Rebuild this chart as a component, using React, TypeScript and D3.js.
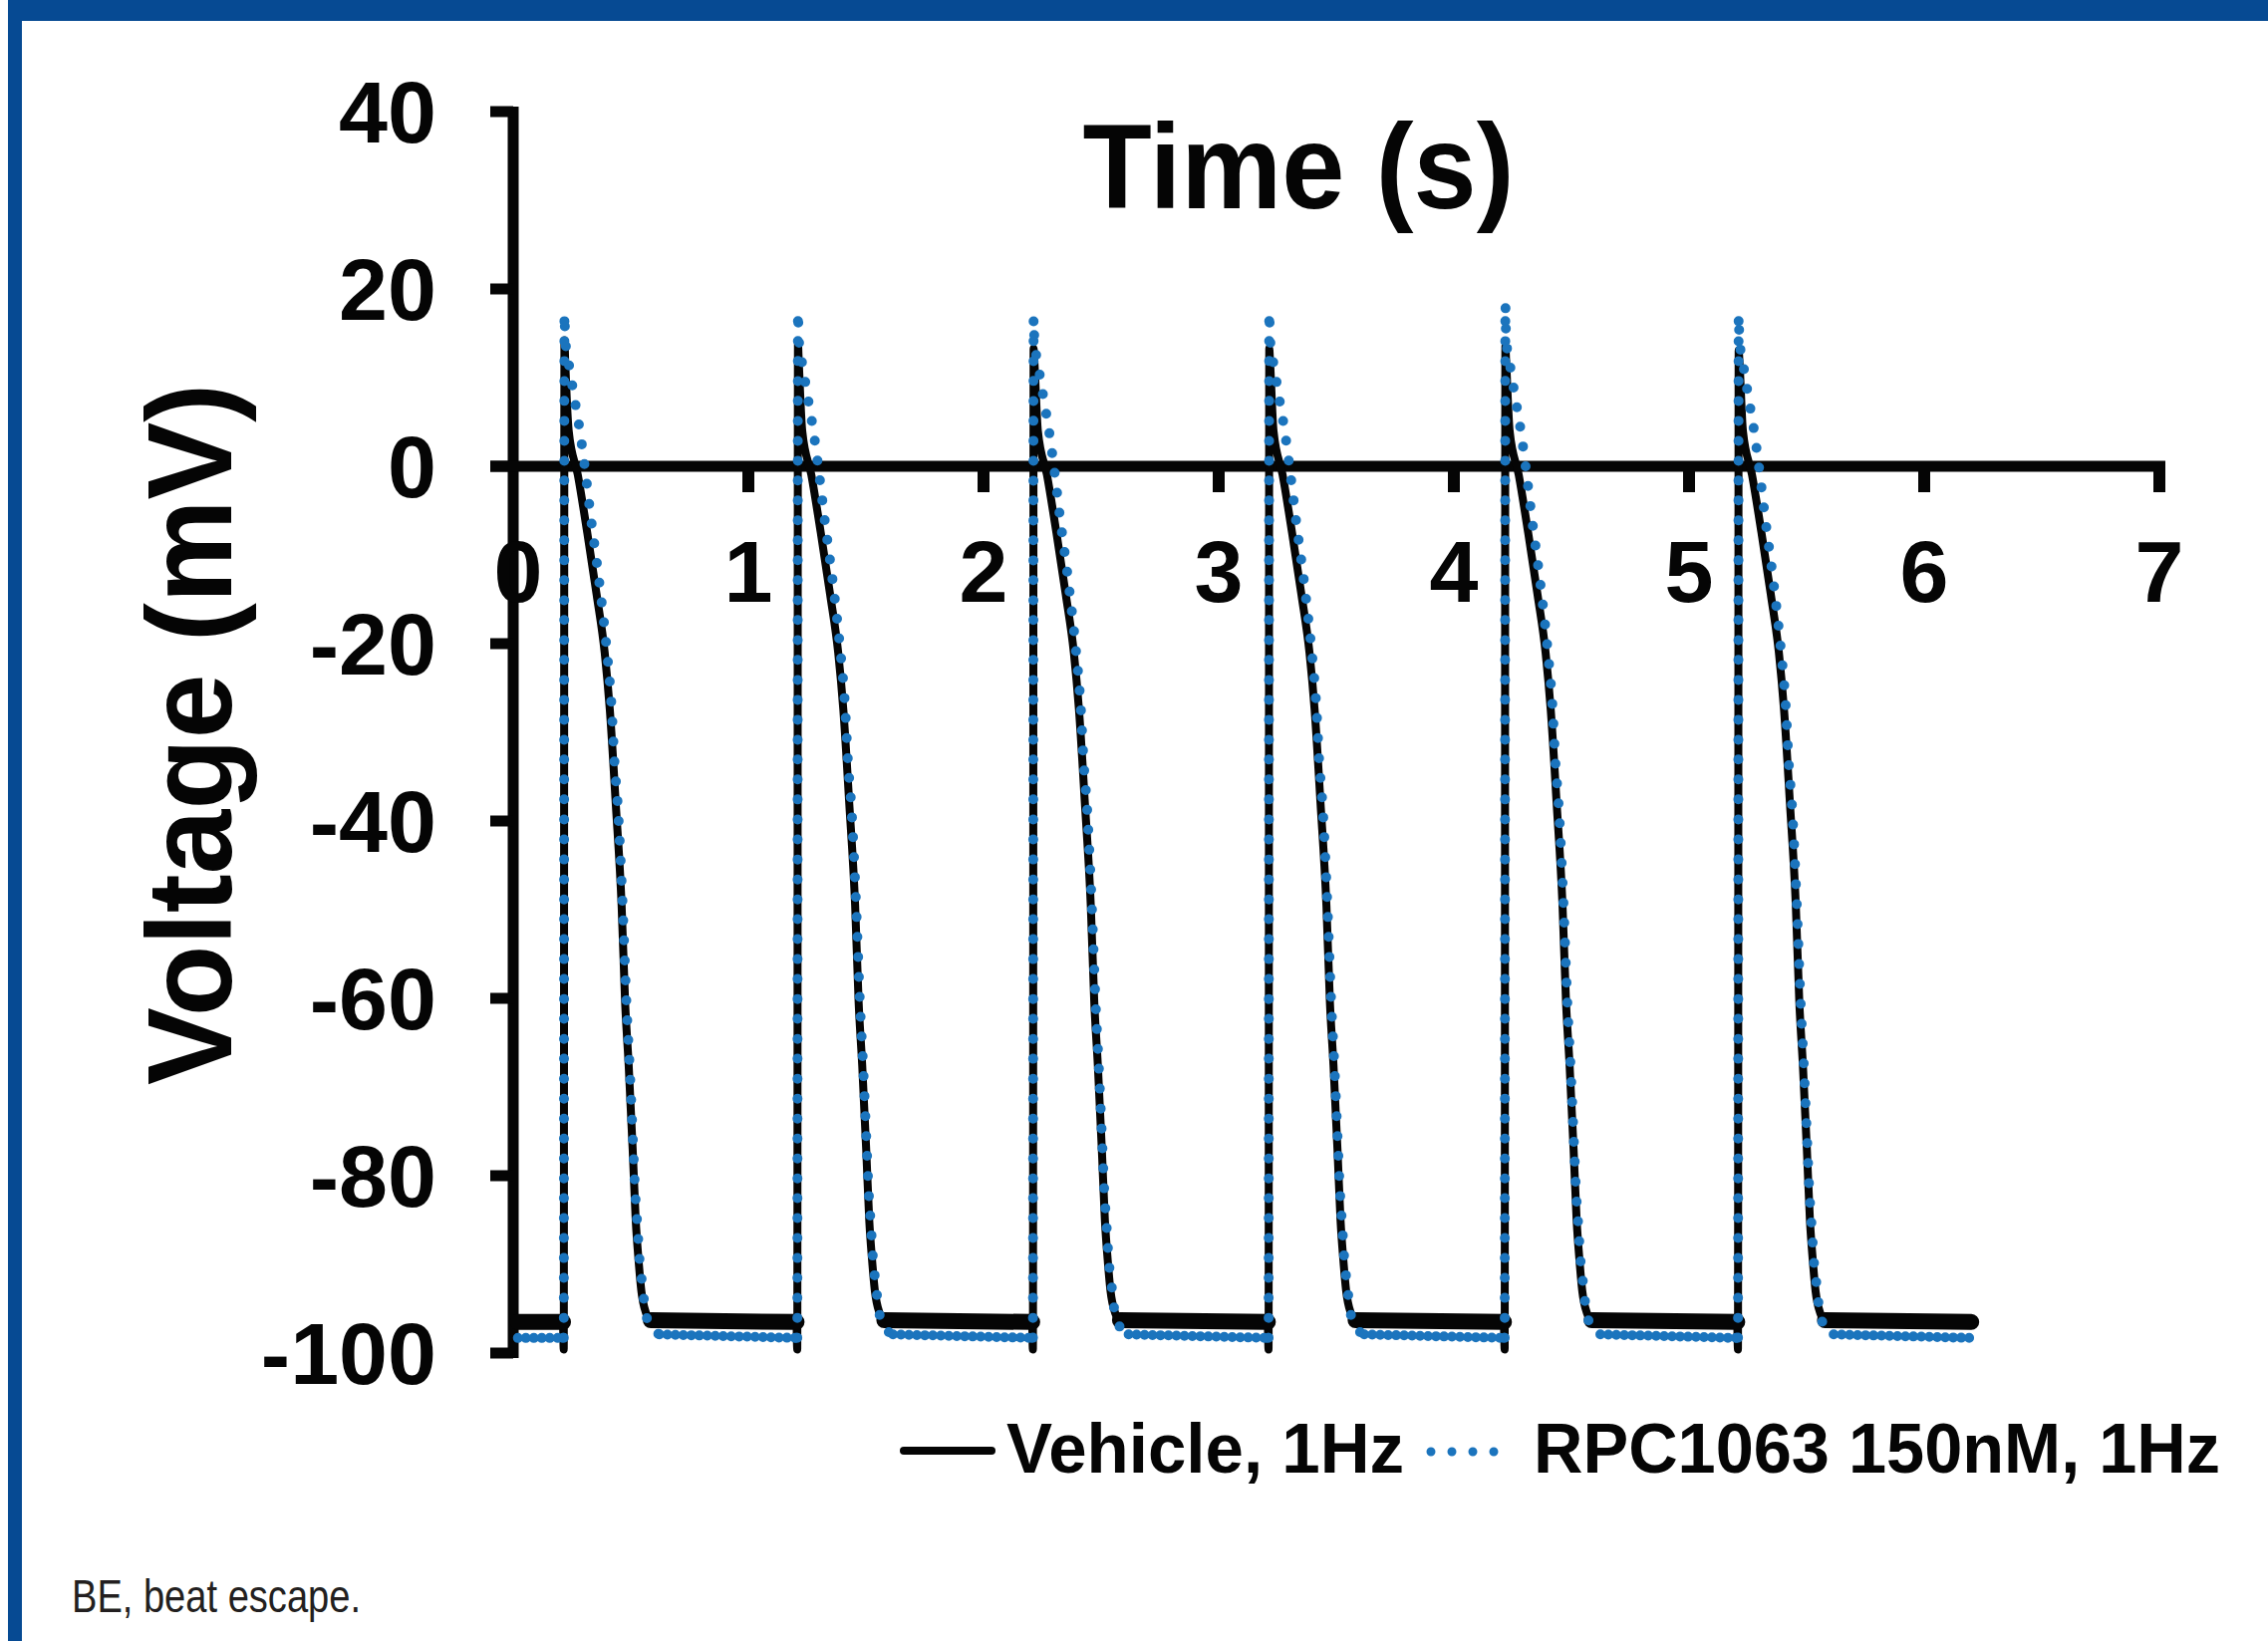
import * as d3 from "d3";

// axis ticks
const timeTicks = [0, 1, 2, 3, 4, 5, 6, 7];
const voltageTicks = [40, 20, 0, -20, -40, -60, -80, -100];

// one upstroke per second
const beatOnsets = [0.215, 1.208, 2.21, 3.212, 4.216, 5.208];
const vehiclePeaks = [14.2, 13.8, 13.3, 13.3, 13.6, 13.1];
const rpcPeaks = [17.2, 17.4, 16.7, 17.4, 18.2, 17.0];
const vehicleRest = -96.5;
const rpcRest = -98.3;
const traceStart = 0.02;
const traceEnd = 6.2;

// action potential shape: seconds after the upstroke, mV (index 1 is the peak)
const vehicleApTime = [0, 0.003, 0.006, 0.021, 0.06, 0.1, 0.14, 0.174, 0.196, 0.221, 0.246, 0.261, 0.276, 0.293, 0.306, 0.318, 0.33, 0.35, 0.37];
const vehicleApVolt = [-99.6, 14, 12, 4, -1, -7.5, -14.5, -21, -27.5, -38, -49.5, -60.5, -67.5, -77, -85, -89.5, -93, -95.5, -96.3];
const rpcApTime = [0, 0.003, 0.006, 0.025, 0.047, 0.068, 0.089, 0.114, 0.153, 0.182, 0.203, 0.216, 0.229, 0.25, 0.267, 0.28, 0.295, 0.303, 0.314, 0.322, 0.335, 0.343, 0.364, 0.407];
const rpcApVolt = [-99.4, 17, 14.5, 11, 7.4, 4.1, 0, -5.5, -13.5, -20.5, -27, -33.5, -38, -49.3, -60.8, -67.6, -76.6, -81.5, -86, -89.4, -92.5, -94.5, -96.8, -97.9];

const legendLabels = ["Vehicle, 1Hz", "RPC1063 150nM, 1Hz"];

const W = 2276;
const H = 1647;
const frameBlue = "#064a93";
const dotBlue = "#1b74bd";

type Pt = { t: number; v: number };

function buildTrace(peaks: number[], rest: number, apT: number[], apV: number[]) {
  const rests: Pt[][] = [];
  const aps: Pt[][] = [];
  let cur: Pt[] = [{ t: traceStart, v: rest }];
  beatOnsets.forEach((t0, i) => {
    const pre = { t: t0 - 0.003, v: rest };
    cur.push(pre);
    rests.push(cur);
    const ap: Pt[] = [pre];
    apT.forEach((dt, j) => ap.push({ t: t0 + dt, v: j === 1 ? peaks[i] : apV[j] }));
    aps.push(ap);
    cur = [ap[ap.length - 1]];
  });
  cur.push({ t: traceEnd, v: rest });
  rests.push(cur);
  return { rests, aps };
}

export default function App() {
  const x = d3.scaleLinear().domain([0, 7]).range([515, 2167]);
  const y = d3.scaleLinear().domain([-100, 40]).range([1358, 112]);
  const line = d3
    .line<Pt>()
    .x((d) => x(d.t))
    .y((d) => y(d.v));
  const smooth = d3
    .line<Pt>()
    .x((d) => x(d.t))
    .y((d) => y(d.v))
    .curve(d3.curveMonotoneX);

  const vehicle = buildTrace(vehiclePeaks, vehicleRest, vehicleApTime, vehicleApVolt);
  const rpc = buildTrace(rpcPeaks, rpcRest, rpcApTime, rpcApVolt);

  const font = "'Liberation Sans', Arial, sans-serif";

  return (
    <svg
      width={W}
      height={H}
      style={{ position: "absolute", left: 0, top: 0, background: "#fff" }}
    >
      <rect x={0} y={0} width={W} height={H} fill="#fff" />
      {/* page frame */}
      <rect x={8} y={0} width={W - 8} height={21} fill={frameBlue} />
      <rect x={8} y={0} width={14} height={H} fill={frameBlue} />

      {/* axes */}
      <g stroke="#050505" strokeLinecap="butt">
        <line x1={x(0)} x2={x(0)} y1={y(40) - 5} y2={y(-100) + 5} strokeWidth={11} />
        {voltageTicks.map((v) => (
          <line key={v} x1={x(0) - 23} x2={x(0)} y1={y(v)} y2={y(v)} strokeWidth={11} />
        ))}
        <line x1={x(0) - 23} x2={x(7) + 6} y1={y(0)} y2={y(0)} strokeWidth={11} />
        {timeTicks.slice(1).map((t) => (
          <line key={t} x1={x(t)} x2={x(t)} y1={y(0)} y2={y(0) + 26} strokeWidth={12} />
        ))}
      </g>

      <g fontFamily={font} fontWeight="bold" fontSize={88} fill="#050505">
        {voltageTicks.map((v) => (
          <text key={v} x={438} y={y(v)} dy="0.35em" textAnchor="end">
            {v}
          </text>
        ))}
        {timeTicks.map((t) => (
          <text key={t} x={x(t) + (t === 0 ? 5 : 0)} y={604} textAnchor="middle">
            {t}
          </text>
        ))}
      </g>

      {/* Vehicle: solid black, noisy resting band drawn wider */}
      <g fill="none" stroke="#050505" strokeLinejoin="round">
        {vehicle.aps.map((seg, i) => (
          <path key={"va" + i} d={smooth(seg) ?? ""} strokeWidth={8} />
        ))}
        {vehicle.rests.map((seg, i) => (
          <path key={"vr" + i} d={line(seg) ?? ""} strokeWidth={16} strokeLinecap="round" />
        ))}
      </g>

      {/* RPC1063: round blue dots */}
      <g fill="none" stroke={dotBlue} strokeLinecap="round">
        {rpc.aps.map((seg, i) => (
          <path key={"ra" + i} d={smooth(seg) ?? ""} strokeWidth={10} strokeDasharray="0 20" />
        ))}
        {rpc.rests.map((seg, i) => (
          <path key={"rr" + i} d={line(seg) ?? ""} strokeWidth={10} strokeDasharray="0 8" />
        ))}
      </g>

      {/* titles */}
      <text
        x={1303}
        y={209}
        textAnchor="middle"
        fontFamily={font}
        fontWeight="bold"
        fontSize={120}
        textLength={433}
        lengthAdjust="spacingAndGlyphs"
        fill="#050505"
      >
        Time (s)
      </text>
      <text
        transform="translate(232,737) rotate(-90)"
        textAnchor="middle"
        fontFamily={font}
        fontWeight="bold"
        fontSize={120}
        textLength={704}
        lengthAdjust="spacingAndGlyphs"
        fill="#050505"
      >
        Voltage (mV)
      </text>

      {/* legend */}
      <line x1={907} x2={995} y1={1456} y2={1456} stroke="#050505" strokeWidth={8} strokeLinecap="round" />
      <text
        x={1010}
        y={1478}
        fontFamily={font}
        fontWeight="bold"
        fontSize={70}
        textLength={399}
        lengthAdjust="spacingAndGlyphs"
        fill="#050505"
      >
        {legendLabels[0]}
      </text>
      <line
        x1={1436}
        x2={1520}
        y1={1457}
        y2={1457}
        stroke={dotBlue}
        strokeWidth={9}
        strokeLinecap="round"
        strokeDasharray="0 21"
      />
      <text
        x={1539}
        y={1478}
        fontFamily={font}
        fontWeight="bold"
        fontSize={70}
        textLength={689}
        lengthAdjust="spacingAndGlyphs"
        fill="#050505"
      >
        {legendLabels[1]}
      </text>

      {/* footnote */}
      <text
        x={72}
        y={1618}
        fontFamily="'Liberation Sans Narrow', 'Liberation Sans', sans-serif"
        fontSize={46}
        textLength={290}
        lengthAdjust="spacingAndGlyphs"
        fill="#231f20"
      >
        BE, beat escape.
      </text>
    </svg>
  );
}
